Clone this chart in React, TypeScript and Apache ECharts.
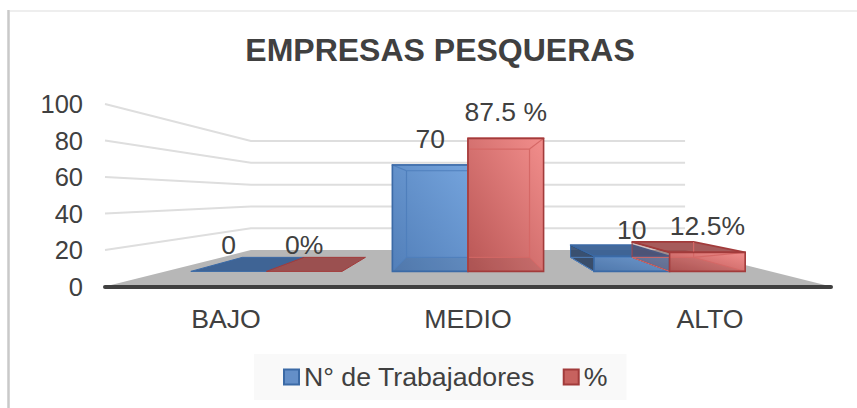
import React, { useEffect, useRef } from "react";
import * as echarts from "echarts";

const titleText = "EMPRESAS PESQUERAS";
const categories = ["BAJO", "MEDIO", "ALTO"];
const workerName = "N° de Trabajadores";
const percentName = "%";
const workerValues = [0, 70, 10];
const percentValues = [0, 87.5, 12.5];
const workerLabels = ["0", "70", "10"];
const percentLabels = ["0%", "87.5 %", "12.5%"];
const yTicks = [20, 40, 60, 80, 100];

// Perspective of the 3D view, in grid terms
const VP_Y = 196;
const BACK = 0.598;
const BAR_FRONT = 0.833;
const BAR_BACK = 0.678;
const BAR_FRAC = 0.375;
const FONT = "'Liberation Sans', Arial, sans-serif";
const TEXT = "#404040";

const project = (x: number, y: number, s: number, vx: number) => [vx + (x - vx) * s, VP_Y + (y - VP_Y) * s];

const floorRender = (params: any, api: any) => {
  const c = params.coordSys;
  const y0 = api.coord([0, 0])[1];
  const vx = c.x + c.width / 2;
  const a = project(c.x, y0, BACK, vx);
  const b = project(c.x + c.width, y0, BACK, vx);
  return {
    type: "polygon",
    shape: { points: [[c.x, y0], a, b, [c.x + c.width, y0]] },
    style: { fill: "#b7b7b7" },
    silent: true,
  };
};

const gridRender = (params: any, api: any) => {
  const c = params.coordSys;
  const y = api.coord([0, api.value(1)])[1];
  const vx = c.x + c.width / 2;
  const a = project(c.x, y, BACK, vx);
  const b = project(c.x + c.width, y, BACK, vx);
  return {
    type: "polyline",
    shape: { points: [[c.x, y], a, b] },
    style: { stroke: "#dedede", lineWidth: 2, fill: "none" },
    silent: true,
  };
};

const grad = (from: string, to: string) =>
  new echarts.graphic.LinearGradient(1, 0, 0, 1, [
    { offset: 0, color: from },
    { offset: 1, color: to },
  ]);

const barRender =
  (
    side: number,
    labels: string[],
    pal: {
      hi: string;
      lo: string;
      edge: string;
      inner: string;
      top: string;
      left: string;
      right: string;
    }
  ) =>
  (params: any, api: any) => {
    const c = params.coordSys;
    const vx = c.x + c.width / 2;
    const idx = api.value(0);
    const p = api.coord([idx, api.value(1)]);
    const base = api.coord([idx, 0])[1];
    const band = api.size([1, 0])[0];
    const w = band * BAR_FRAC;
    const xl = side < 0 ? p[0] - w : p[0];
    const xr = side < 0 ? p[0] : p[0] + w;

    const pt = (x: number, y: number, s: number) => project(x, y, s, vx);
    const ftl = pt(xl, p[1], BAR_FRONT);
    const ftr = pt(xr, p[1], BAR_FRONT);
    const fbl = pt(xl, base, BAR_FRONT);
    const fbr = pt(xr, base, BAR_FRONT);
    const btl = pt(xl, p[1], BAR_BACK);
    const btr = pt(xr, p[1], BAR_BACK);
    const bbl = pt(xl, base, BAR_BACK);
    const bbr = pt(xr, base, BAR_BACK);

    const poly = (points: number[][], fill: any, stroke: string, lw = 1.2) => ({
      type: "polygon",
      shape: { points },
      style: { fill, stroke, lineWidth: lw, lineJoin: "round" },
    });
    const seg = (a: number[], b: number[], stroke: string, lw = 1.2) => ({
      type: "line",
      shape: { x1: a[0], y1: a[1], x2: b[0], y2: b[1] },
      style: { stroke, lineWidth: lw },
    });

    const children: any[] = [];
    const flat = api.value(1) === 0;
    const topVisible = ftl[1] > btl[1];
    if (flat) {
      children.push(poly([fbl, fbr, bbr, bbl], pal.top, pal.edge, 1));
    } else {
      children.push(poly([btl, btr, ftr, ftl], pal.top, topVisible ? pal.edge : pal.inner, 1.6));
      children.push(poly([btl, ftl, fbl, bbl], pal.left, topVisible ? pal.edge : pal.inner, 1));
      children.push({
        type: "rect",
        shape: { x: ftl[0], y: ftl[1], width: ftr[0] - ftl[0], height: fbl[1] - ftl[1] },
        style: { fill: grad(pal.hi, pal.lo) },
      });
      children.push(poly([bbl, bbr, fbr, fbl], "rgba(60,60,60,0.10)", pal.inner, 1));
      if (topVisible) {
        // the top of a low bar sits above its front face, so only what lies behind that face is tinted
        children.push(seg(btr, bbr, pal.inner));
        children.push(seg(ftr, bbr, pal.inner));
      } else {
        children.push(seg(btl, btr, pal.inner));
        children.push(seg(btl, bbl, pal.inner));
        children.push(seg(btr, bbr, pal.inner));
        children.push(seg(ftl, btl, pal.inner));
        children.push(seg(ftr, btr, pal.inner));
      }
      children.push({
        type: "rect",
        shape: { x: ftl[0], y: ftl[1], width: ftr[0] - ftl[0], height: fbl[1] - ftl[1] },
        style: { fill: "none", stroke: pal.edge, lineWidth: 1.6 },
      });
    }
    children.push({
      type: "text",
      z2: 100,
      style: {
        x: (ftl[0] + ftr[0]) / 2,
        y: ftl[1] - 26,
        text: labels[idx],
        fill: TEXT,
        font: `26.5px ${FONT}`,
        align: "center",
        verticalAlign: "middle",
      },
    });
    return { type: "group", children };
  };

const bluePal = {
  hi: "#74a3dc",
  lo: "#527fb9",
  edge: "#3b6aa6",
  inner: "#4f7fbc",
  top: "rgba(52,92,145,0.92)",
  left: "rgba(35,62,100,0.85)",
  right: "rgba(52,92,145,0.0)",
};
const redPal = {
  hi: "#f28e8c",
  lo: "#b95655",
  edge: "#a23b3b",
  inner: "#d56866",
  top: "rgba(150,62,62,0.85)",
  left: "rgba(110,45,45,0.30)",
  right: "rgba(150,62,62,0.0)",
};

export default function App() {
  const ref = useRef<HTMLDivElement>(null);
  useEffect(() => {
    document.body.style.margin = "0";
    const chart = echarts.init(ref.current!, undefined, { renderer: "svg" });
    chart.setOption({
      animation: false,
      backgroundColor: "#ffffff",
      title: {
        text: titleText,
        left: 435,
        top: 29,
        textAlign: "center",
        textStyle: { fontFamily: FONT, fontSize: 32, fontWeight: "bold", color: TEXT },
      },
      grid: { left: 105, right: 26, top: 104, height: 182.5 },
      legend: {
        data: [workerName, percentName],
        left: 254,
        top: 354,
        padding: [9, 19, 9, 29],
        backgroundColor: "#f9f9f9",
        icon: "rect",
        itemWidth: 15,
        itemHeight: 15,
        itemGap: 28,
        selectedMode: false,
        textStyle: { fontFamily: FONT, fontSize: 26.7, color: TEXT, lineHeight: 28 },
      },
      xAxis: {
        type: "category",
        data: categories,
        z: 6,
        axisTick: { show: false },
        axisLine: { lineStyle: { color: "#404040", width: 4 } },
        axisLabel: { fontFamily: FONT, fontSize: 26.7, color: TEXT, margin: 19 },
        splitLine: { show: false },
      },
      yAxis: {
        type: "value",
        min: 0,
        max: 100,
        interval: 20,
        axisLine: { show: false },
        axisTick: { show: false },
        splitLine: { show: false },
        axisLabel: { fontFamily: FONT, fontSize: 25.5, color: TEXT, margin: 22 },
      },
      graphic: [
        { type: "line", silent: true, z: -1, shape: { x1: 8.5, y1: 10, x2: 8.5, y2: 408 }, style: { stroke: "#c9c9c9", lineWidth: 2.5 } },
        { type: "line", silent: true, z: -1, shape: { x1: 10, y1: 11, x2: 857, y2: 11 }, style: { stroke: "#e8e8e8", lineWidth: 1.5 } },
      ],
      series: [
        { type: "custom", name: "floor", renderItem: floorRender, data: [[0, 0]], clip: false, z: 1, silent: true },
        {
          type: "custom",
          name: "grid",
          renderItem: gridRender,
          data: yTicks.map((t) => [0, t]),
          clip: false,
          z: 2,
          silent: true,
        },
        {
          type: "custom",
          name: workerName,
          renderItem: barRender(-1, workerLabels, bluePal),
          data: workerValues.map((v, i) => [i, v]),
          encode: { x: 0, y: 1 },
          clip: false,
          z: 3,
          itemStyle: { color: "#648fc8", borderColor: "#3b6aa6", borderWidth: 2 },
        },
        {
          type: "custom",
          name: percentName,
          renderItem: barRender(1, percentLabels, redPal),
          data: percentValues.map((v, i) => [i, v]),
          encode: { x: 0, y: 1 },
          clip: false,
          z: 4,
          itemStyle: { color: "#c7625f", borderColor: "#a23b3b", borderWidth: 2 },
        },
      ],
    });
    return () => chart.dispose();
  }, []);
  return <div ref={ref} style={{ width: 857, height: 408 }} />;
}
